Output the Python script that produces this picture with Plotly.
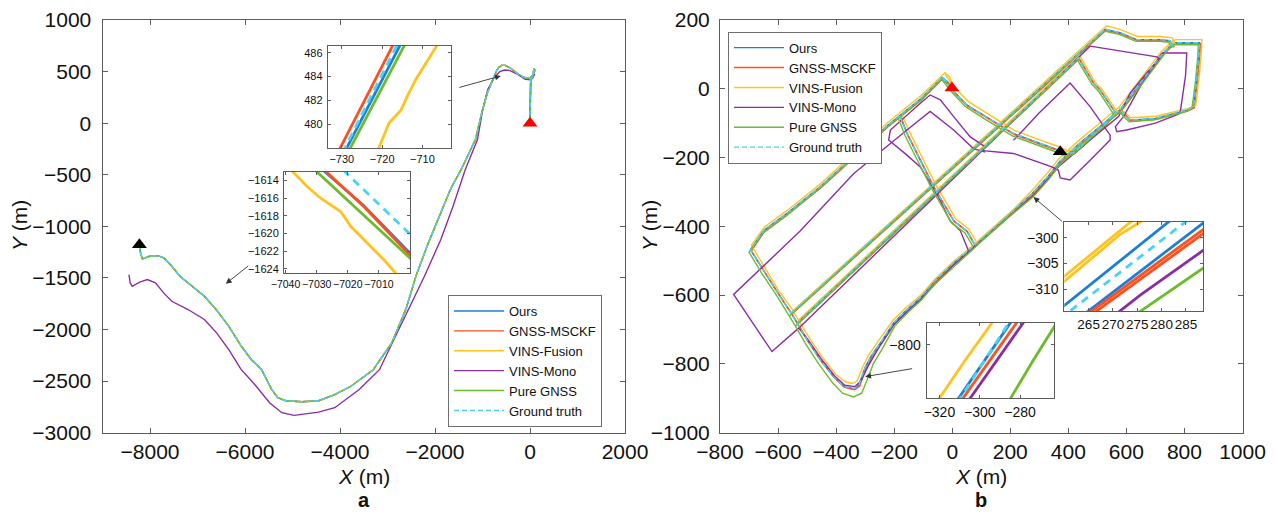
import plotly.graph_objects as go

FONT = "Liberation Sans, Arial, Helvetica, sans-serif"
W, H = 1275, 512

METHODS = ["Ours", "GNSS-MSCKF", "VINS-Fusion", "VINS-Mono", "Pure GNSS", "Ground truth"]
COLORS = {
    "Ours": "#1C7FD6",
    "GNSS-MSCKF": "#FF4F1F",
    "VINS-Fusion": "#FFC21F",
    "VINS-Mono": "#8A2DA3",
    "Pure GNSS": "#6DBB2C",
    "Ground truth": "#45D2FF",
}

# ---------------- panel a: long route ----------------
A_GT_X = [0, 0, 2, 15, 60, 95, 100, 80, 70, 60, 20, -60, -150, -250, -400, -520, -600, -660, -700, -722,
          -760, -820, -900, -1000, -1150, -1450, -1665, -1880, -2140, -2400, -2610, -2910, -3300, -3770,
          -4110, -4450, -4800, -5140, -5310, -5440, -5650, -5870, -6080, -6340, -6600, -6855, -7020,
          -7113, -7370, -7540, -7710, -7840, -8010, -8160, -8200, -8215]
A_GT_Y = [0, 200, 400, 440, 470, 500, 520, 530, 480, 450, 430, 435, 450, 475, 530, 560, 560, 540, 510, 482,
          445, 380, 290, 129, -160, -450, -630, -870, -1160, -1480, -1800, -2130, -2390, -2550,
          -2630, -2690, -2700, -2690, -2660, -2580, -2390, -2290, -2160, -1970, -1810, -1677, -1617,
          -1581, -1484, -1387, -1306, -1284, -1290, -1316, -1258, -1185]
A_MONO_X = [0, 0, 2, 15, 60, 95, 90, 60, 20, -100, -250, -420, -540, -635, -764, -892, -1000, -1107,
            -1364, -1622, -1879, -2222, -2565, -2900, -3166, -3595, -4110, -4453, -4968, -5225, -5483,
            -5826, -6083, -6341, -6598, -6855, -7199, -7542, -7713, -7885, -8056, -8228, -8374, -8417, -8443]
A_MONO_Y = [0, 200, 400, 430, 455, 480, 470, 440, 420, 425, 470, 510, 515, 500, 435, 323, 120, -161,
            -452, -807, -1129, -1484, -1806, -2130, -2387, -2581, -2758, -2800, -2832, -2806, -2710,
            -2516, -2387, -2194, -2032, -1903, -1806, -1726, -1645, -1548, -1516, -1542, -1581, -1548, -1468]

# inset a1 (near the northern bend)
A1 = {
    "Ours": ([-729.4, -722.2, -715.0], [477.6, 482.3, 487.0]),
    "GNSS-MSCKF": ([-731.0, -723.9, -716.8], [477.6, 482.3, 487.0]),
    "VINS-Fusion": ([-721.3, -718.3, -715.3, -713.7, -711.6, -705.7], [477.6, 480.1, 481.2, 482.4, 483.8, 487.0]),
    "Pure GNSS": ([-728.5, -721.2, -713.9], [477.6, 482.3, 487.0]),
    "Ground truth": ([-729.8, -722.8, -715.8], [477.6, 482.3, 487.0]),
}
# inset a2 (western descent)
A2 = {
    "Ours": ([-7029, -7022.8, -7018.4, -7015, -6999], [-1612.5, -1614.4, -1615.8, -1616.8, -1622.6]),
    "GNSS-MSCKF": ([-7028.5, -7022.3, -7018, -7014.7, -6999], [-1612.5, -1614.5, -1616, -1617, -1622.8]),
    "VINS-Fusion": ([-7038.5, -7033, -7028.7, -7022.3, -7019, -7013.7, -7008.3, -7003.8],
                    [-1612.7, -1614.7, -1616, -1617.5, -1619.2, -1621.1, -1623, -1624.8]),
    "Pure GNSS": ([-7031.5, -7015, -6999], [-1612.5, -1617.9, -1623.1]),
    "Ground truth": ([-7021.5, -6999], [-1612.8, -1620.4]),
}

# ---------------- panel b: urban loops ----------------
B_GT_X = [0, -18, -35, -110, -225, -328, -454, -569, -649, -695, -650, -600, -555, -535, -500, -454, -408,
          -374, -340, -322, -300, -280, -248, -202, -156, -110, -64, 5, 50, 114, 200, 275, 330, 372, 430,
          500, 578, 620, 670, 722, 756, 770, 852, 850, 842, 831, 808, 700, 613, 595, 578, None,
          -555, -400, -225, 0, 250, 450, 527, 578, 636, 716, 750, 762, 756, None,
          -535, -350, -173, 0, 200, 435, 452, 486, 509, 532, 561, 530, 480, 441, None,
          -35, 5, 50, 114, 211, 303, 360, 395, 418, 441, None,
          -179, -156, -110, -64, 5, 50, 75]
B_GT_Y = [3, 22, 33, -30, -108, -186, -284, -362, -411, -468, -530, -595, -652, -681, -730, -789, -838,
          -865, -872, -862, -810, -778, -740, -681, -642, -608, -562, -506, -475, -427, -362, -305, -255,
          -210, -165, -115, -61, -15, 41, 100, 129, 134, 134, 100, 26, -52, -62, -86, -91, -76, -61, None,
          -652, -535, -400, -229, -38, 115, 173, 163, 143, 143, 140, 124, 129, None,
          -681, -534, -393, -256, -97, 90, 65, 17, -3, -32, -68, -100, -140, -169, None,
          33, -8, -47, -81, -130, -159, -176, -190, -186, -169, None,
          -81, -130, -208, -286, -384, -413, -450]

B_MSCKF_X = [3, -15, -32, -107, -222, -325, -451, -566, -646, -692, -647, -597, -552, -532, -497, -451,
             -405, -371, -337, -319, -297, -277, -245, -199, -153, -107, -61, 8, 53, 117, 203, 278, 333,
             375, 433, 503, 581, 623, 673, 725, 759, 773, 855, 853, 845, 834, 811, 703, 616, 598, 581, None,
             -552, -397, -222, 3, 253, 453, 530, 581, 639, 719, 753, 765, 759, None,
             -532, -347, -170, 3, 203, 438, 455, 489, 512, 535, 564, 533, 483, 444, None,
             -32, 8, 53, 117, 214, 306, 363, 398, 421, 444, None,
             -176, -153, -107, -61, 8, 53, 78]
B_MSCKF_Y = [0, 19, 30, -33, -111, -189, -287, -365, -414, -471, -533, -598, -655, -684, -733, -792, -841,
             -868, -875, -865, -813, -781, -743, -684, -645, -611, -565, -509, -478, -430, -365, -308, -258,
             -213, -168, -118, -64, -18, 38, 97, 126, 131, 131, 97, 23, -55, -65, -89, -94, -79, -64, None,
             -655, -538, -403, -232, -41, 112, 170, 160, 140, 140, 137, 121, 126, None,
             -684, -537, -396, -259, -100, 87, 62, 14, -6, -35, -71, -103, -143, -172, None,
             30, -11, -50, -84, -133, -162, -179, -193, -189, -172, None,
             -84, -133, -211, -289, -387, -416, -453]

B_FUSION_X = [5, -10, -25, -105, -222, -326, -452, -567, -647, -692, -646, -597, -548, -530, -494, -448,
              -402, -368, -345, -328, -310, -290, -256, -204, -156, -108, -60, 10, 56, 120, 206, 270, 325,
              368, 426, 496, 574, 616, 667, 720, 760, 772, 860, 858, 850, 839, 814, 702, 615, 596, 575, None,
              -548, -395, -220, 4, 254, 452, 532, 580, 638, 718, 758, 768, 760, None,
              -530, -345, -168, 4, 204, 438, 457, 491, 514, 537, 568, 535, 484, 445, None,
              -25, 12, 57, 120, 214, 306, 363, 400, 423, 447, None,
              -172, -148, -102, -56, 12, 56, 82]
B_FUSION_Y = [5, 35, 47, -18, -98, -177, -275, -353, -402, -455, -520, -588, -645, -673, -722, -780, -830,
              -852, -857, -850, -812, -777, -735, -673, -634, -600, -554, -498, -467, -419, -355, -300, -248,
              -203, -158, -108, -54, -8, 48, 108, 140, 143, 143, 105, 30, -48, -57, -80, -84, -70, -55, None,
              -645, -528, -392, -221, -30, 123, 183, 172, 152, 152, 148, 130, 135, None,
              -673, -527, -386, -249, -90, 98, 70, 20, 0, -28, -66, -97, -137, -164, None,
              42, 0, -38, -72, -121, -150, -167, -181, -177, -160, None,
              -76, -124, -202, -280, -378, -407, -444]

B_GNSS_X = [-3, -20, -38, -114, -228, -330, -458, -572, -652, -700, -655, -604, -560, -540, -506, -460,
            -412, -378, -340, -312, -290, -272, -240, -198, -150, -106, -60, 8, 52, 116, 202, 280, 334,
            375, 433, 503, 581, 624, 674, 726, 752, 766, 848, 846, 838, 826, 804, 698, 610, 592, 576, None,
            -560, -405, -230, -4, 246, 446, 523, 575, 633, 713, 746, 758, 752, None,
            -540, -355, -178, -4, 196, 431, 448, 482, 505, 528, 556, 526, 476, 437, None,
            -38, 2, 46, 110, 207, 299, 356, 391, 414, 437, None,
            -186, -163, -117, -70, -2, 44, 70]
B_GNSS_Y = [0, 20, 30, -36, -114, -192, -290, -370, -420, -475, -538, -602, -660, -690, -740, -800, -855,
            -885, -896, -885, -840, -800, -755, -690, -648, -614, -568, -514, -482, -432, -368, -313, -262,
            -216, -171, -120, -66, -20, 36, 94, 124, 128, 128, 95, 22, -56, -66, -90, -96, -82, -66, None,
            -660, -542, -406, -235, -44, 110, 168, 158, 138, 138, 135, 119, 124, None,
            -690, -542, -400, -263, -104, 84, 60, 12, -8, -37, -74, -106, -146, -175, None,
            28, -13, -52, -87, -137, -166, -183, -197, -192, -176, None,
            -86, -135, -213, -291, -390, -419, -456]

B_MONO_X = [114, 62, 5, -41, -76, -110, -213, -219, -160, -110, -53, -7, 28, 56, None,
            114, 73, 5, -53, -76, -156, -340, -523, -753, -621, -529, -340, -173, 0, 200, 475, None,
            475, 540, 613, 705, 715, 670, 613, 573, 475, 372, 280, 200, 114, 5, -110, -202, -248, -292,
            -315, -335, -370, -405, -452, -498, -529, None,
            211, 300, 406, 475, 544, 544, 475, 406, 372, 366, 343, 211, 96, None,
            722, 808, 804, 785, 773, 700, 601, 567, 562, 590, 650, 722]
B_MONO_Y = [-169, -140, -81, -32, -18, -42, -120, -149, -190, -227, -306, -384, -413, -471, None,
            -184, -174, -120, -81, -66, -120, -247, -413, -598, -764, -696, -542, -405, -264, -100, 124, None,
            124, 115, 104, 93, 88, 46, -13, -81, -149, -222, -310, -369, -432, -512, -612, -686, -745, -810,
            -850, -866, -862, -835, -785, -728, -696, None,
            -150, -70, 17, -52, -135, -149, -208, -265, -259, -237, -227, -188, -179, None,
            104, 104, 40, -71, -76, -100, -120, -125, -110, -81, 10, 104]

# inset b1 (street C, north-east)
B1 = {
    "Ours": ([259, 282.3, None, 264, 289.5], [-314.0, -296.2, None, -315.0, -296.4]),
    "GNSS-MSCKF": ([264.5, 289.5, None, 265.5, 289.5], [-315.1, -297.7, None, -315.1, -298.5]),
    "VINS-Fusion": ([259, 269.4, 273.5, 274.5, None, 259, 270.1, 271.5, 276.8],
                    [-308.3, -300.2, -296.9, -296.2, None, -309.3, -300.5, -299.3, -296.2]),
    "VINS-Mono": ([270.5, 275.6, 289.5], [-315.0, -311.2, -301.8]),
    "Pure GNSS": ([274.5, 289.5], [-315.1, -305.3]),
    "Ground truth": ([259, 285.8], [-315.9, -296.2]),
}
# inset b2 (southern bend)
B2 = {
    "Ours": ([-312.0, -297.8, -283.2], [-826, -807, -788]),
    "GNSS-MSCKF": ([-309.9, -295.2, -280.1], [-826, -807, -788]),
    "VINS-Fusion": ([-321.5, -307.3, -292.3], [-826, -807, -788]),
    "VINS-Mono": ([-306.3, -291.7, -276.8], [-826, -807, -788]),
    "Pure GNSS": ([-286.0, -273.5, -260.4], [-826, -807, -788]),
    "Ground truth": ([-311.1, -297.8, -284.1], [-826, -807, -788]),
}

A_PATHS = {
    "Ours": (A_GT_X, A_GT_Y), "GNSS-MSCKF": (A_GT_X, A_GT_Y), "VINS-Fusion": (A_GT_X, A_GT_Y),
    "VINS-Mono": (A_MONO_X, A_MONO_Y), "Pure GNSS": (A_GT_X, A_GT_Y), "Ground truth": (A_GT_X, A_GT_Y),
}
B_PATHS = {
    "Ours": (B_GT_X, B_GT_Y), "GNSS-MSCKF": (B_MSCKF_X, B_MSCKF_Y), "VINS-Fusion": (B_FUSION_X, B_FUSION_Y),
    "VINS-Mono": (B_MONO_X, B_MONO_Y), "Pure GNSS": (B_GNSS_X, B_GNSS_Y), "Ground truth": (B_GT_X, B_GT_Y),
}

# start / end markers
A_START = (0, 0)
A_END = (-8223, -1178)
B_START = (-1, 2)
B_END = (372, -183)

A_XTICKS = [-8000, -6000, -4000, -2000, 0, 2000]
A_YTICKS = [-3000, -2500, -2000, -1500, -1000, -500, 0, 500, 1000]
B_XTICKS = [-800, -600, -400, -200, 0, 200, 400, 600, 800, 1000]
B_YTICKS = [-1000, -800, -600, -400, -200, 0, 200]
A1_XTICKS = [-730, -720, -710]
A1_YTICKS = [480, 482, 484, 486]
A2_XTICKS = [-7040, -7030, -7020, -7010]
A2_YTICKS = [-1624, -1622, -1620, -1618, -1616, -1614]
B1_XTICKS = [265, 270, 275, 280, 285]
B1_YTICKS = [-310, -305, -300]
B2_XTICKS = [-320, -300, -280]
B2_YTICKS = [-800]


def px_dom_x(a, b):
    return [a / W, b / W]


def px_dom_y(top, bottom):
    return [1 - bottom / H, 1 - top / H]


fig = go.Figure()


def add_line(x, y, name, xa, ya, width, legend=None, dash_main="5px,3px", dash_inset="8px,6px", inset=False):
    dash = None
    if name == "Ground truth":
        dash = dash_inset if inset else dash_main
    fig.add_trace(go.Scatter(
        x=x, y=y, mode="lines", name=name, xaxis=xa, yaxis=ya,
        line=dict(color=COLORS[name], width=width, dash=dash),
        connectgaps=False, hoverinfo="skip",
        showlegend=legend is not None, legend=legend or "legend",
    ))


for m in METHODS:
    add_line(*A_PATHS[m], m, "x", "y", 1.4, legend="legend")
for m in METHODS:
    add_line(*B_PATHS[m], m, "x2", "y2", 1.4, legend="legend2")
for m in METHODS:
    if m in A1:
        add_line(*A1[m], m, "x3", "y3", 2.8, inset=True)
    if m in A2:
        add_line(*A2[m], m, "x4", "y4", 2.8, inset=True)
    add_line(*B1[m], m, "x5", "y5", 2.8, inset=True)
    add_line(*B2[m], m, "x6", "y6", 2.8, inset=True)

for (pt, col, xa, ya) in [(A_START, "#FF0000", "x", "y"), (A_END, "#000000", "x", "y"),
                          (B_START, "#FF0000", "x2", "y2"), (B_END, "#000000", "x2", "y2")]:
    fig.add_trace(go.Scatter(x=[pt[0]], y=[pt[1]], mode="markers", xaxis=xa, yaxis=ya,
                             marker=dict(symbol="triangle-up", size=13, color=col),
                             showlegend=False, hoverinfo="skip"))

AX = "#5c5c5c"


def axis(dom, rng, tickvals, size, ticklen, anchor, standoff):
    return dict(domain=dom, range=rng, tickvals=tickvals, ticks="inside", ticklen=ticklen,
                tickwidth=1, tickcolor=AX, showline=True, linecolor=AX, linewidth=1,
                mirror="ticks", showgrid=False, zeroline=False, anchor=anchor,
                tickfont=dict(size=size, color="#111111", family=FONT), tickangle=0,
                automargin=False, ticklabelstandoff=standoff, fixedrange=True)


Y_DOM = px_dom_y(20, 432.7)
fig.update_layout(
    xaxis=axis(px_dom_x(102.5, 625), [-9000, 2000], A_XTICKS, 21, 5, "y", 0),
    yaxis=axis(Y_DOM, [-3000, 1000], A_YTICKS, 21, 5, "x", 6),
    xaxis2=axis(px_dom_x(720, 1242.5), [-800, 1000], B_XTICKS, 21, 5, "y2", 0),
    yaxis2=axis(Y_DOM, [-1000, 200], B_YTICKS, 21, 5, "x2", 5),
    xaxis3=axis(px_dom_x(327.7, 450.7), [-733.5, -703], A1_XTICKS, 11, 3, "y3", 1),
    yaxis3=axis(px_dom_y(45.7, 148), [478, 486.6], A1_YTICKS, 11, 3, "x3", 2),
    xaxis4=axis(px_dom_x(284, 410), [-7040.5, -7000], A2_XTICKS, 10.5, 3, "y4", 1),
    yaxis4=axis(px_dom_y(171.7, 273.3), [-1624.5, -1613], A2_YTICKS, 11, 3, "x4", 2),
    xaxis5=axis(px_dom_x(1064.3, 1203), [260, 288.5], B1_XTICKS, 13.5, 3, "y5", 1),
    yaxis5=axis(px_dom_y(222, 311), [-314.3, -296.9], B1_YTICKS, 14, 3, "x5", 2),
    xaxis6=axis(px_dom_x(926.7, 1054.3), [-326.3, -263], B2_XTICKS, 14, 3, "y6", 1),
    yaxis6=axis(px_dom_y(322.7, 398.3), [-824, -790], B2_YTICKS, 14, 3, "x6", 2),
)

leg = dict(xanchor="left", yanchor="top", bgcolor="white", bordercolor="#6e6e6e", borderwidth=1,
           font=dict(size=13, family=FONT, color="#111111"), itemwidth=50, tracegroupgap=0,
           traceorder="normal")
fig.update_layout(
    legend=dict(leg, x=448 / W, y=1 - 295 / H),
    legend2=dict(leg, x=728 / W, y=1 - 31.7 / H),
)

ann = []
txt = dict(size=21, family=FONT, color="#111111")
for cx, letter in [(363.7, "a"), (981, "b")]:
    ann.append(dict(x=cx / W, y=1 - 476 / H, xref="paper", yref="paper", text="<i>X</i> (m)",
                    xanchor="center", yanchor="middle", showarrow=False, font=txt))
    ann.append(dict(x=cx / W, y=1 - 500 / H, xref="paper", yref="paper", text="<b>" + letter + "</b>",
                    xanchor="center", yanchor="middle", showarrow=False,
                    font=dict(size=20, family=FONT, color="#111111")))
for cx in [19, 649]:
    ann.append(dict(x=cx / W, y=1 - 226 / H, xref="paper", yref="paper", text="<i>Y</i> (m)",
                    xanchor="center", yanchor="middle", textangle=-90, showarrow=False, font=txt))

ARROWS = [
    ("x", "y", (-1520, 342), (-615, 458)),
    ("x", "y", (-5899, -1372), (-6404, -1556)),
    ("x2", "y2", (383, -389), (280, -315)),
    ("x2", "y2", (-133, -813), (-300, -837)),
]
for xa, ya, tail, tip in ARROWS:
    ann.append(dict(x=tip[0], y=tip[1], ax=tail[0], ay=tail[1], xref=xa, yref=ya, axref=xa, ayref=ya,
                    showarrow=True, arrowhead=2, arrowsize=1.3, arrowwidth=0.9, arrowcolor="#333333",
                    text=""))

fig.update_layout(
    width=W, height=H, margin=dict(l=0, r=0, t=0, b=0),
    paper_bgcolor="white", plot_bgcolor="white",
    font=dict(family=FONT, color="#111111"),
    annotations=ann,
)

# the page body has a default 8px margin; remove it so the figure fills the window exactly
fig.write_html("out.html", config={"displayModeBar": False},
               post_script="document.body.style.margin='0';")
